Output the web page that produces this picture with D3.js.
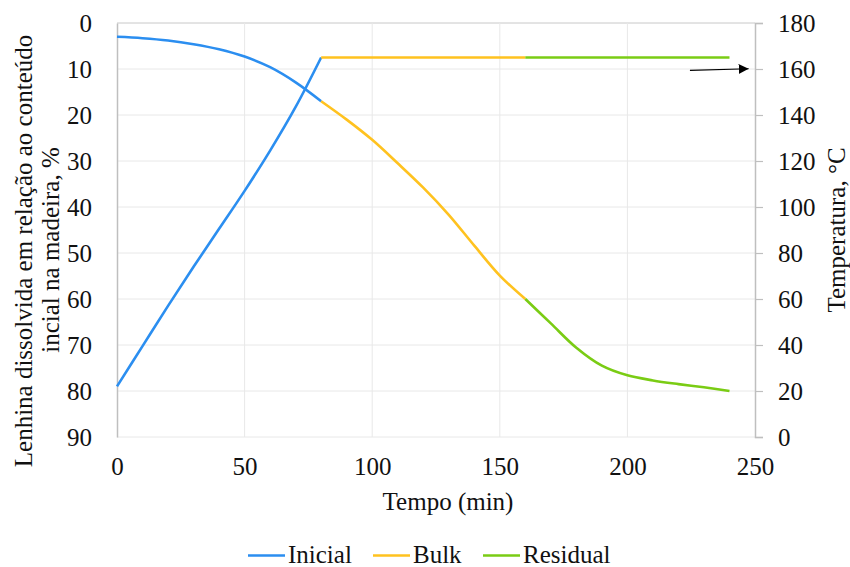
<!DOCTYPE html>
<html>
<head>
<meta charset="utf-8">
<script src="https://cdn.jsdelivr.net/npm/d3@7"></script>
<style>
  body { margin: 0; background: #fff; }
</style>
</head>
<body>
<div id="chart"></div>
<script>
// series names and colours
var seriesNames = ["Inicial", "Bulk", "Residual"];
var seriesColors = ["#2b8ef0", "#ffc21f", "#7acc14"];

// time (min) for each stage
var tInicial = [0, 10, 20, 30, 40, 50, 60, 70, 80];
var tBulk = [80, 90, 100, 110, 120, 130, 140, 150, 160];
var tResidual = [160, 170, 180, 190, 200, 210, 220, 230, 240];

// dissolved lignin, % (left axis, reversed)
var ligInicial = [3.0, 3.3, 3.8, 4.6, 5.7, 7.3, 9.6, 12.9, 17.0];
var ligBulk = [17.0, 21.0, 25.4, 30.5, 35.8, 41.7, 48.4, 54.9, 60.0];
var ligResidual = [60.0, 65.3, 70.6, 74.5, 76.6, 77.7, 78.5, 79.2, 80.0];

// temperature, C (right axis)
var tempInicial = [22, 39.5, 57, 74, 90.5, 107, 124.5, 143.5, 165];
var tempBulk = [165, 165, 165, 165, 165, 165, 165, 165, 165];
var tempResidual = [165, 165, 165, 165, 165, 165, 165, 165, 165];

var xTicks = [0, 50, 100, 150, 200, 250];
var ligTicks = [0, 10, 20, 30, 40, 50, 60, 70, 80, 90];
var tempTicks = [0, 20, 40, 60, 80, 100, 120, 140, 160, 180];

var serif = "'Liberation Serif'";
var fontSize = "25px";

var width = 850, height = 567;
var margin = { top: 23, right: 95, bottom: 130, left: 117 };

var svg = d3.select("#chart").append("svg")
    .attr("width", width)
    .attr("height", height);

var x = d3.scaleLinear().domain([0, 250]).range([margin.left, width - margin.right]);
var yLig = d3.scaleLinear().domain([0, 90]).range([margin.top, height - margin.bottom]);
var yTemp = d3.scaleLinear().domain([0, 180]).range([height - margin.bottom, margin.top]);

function serifText(sel) {
  sel.style("font-family", serif)
     .style("font-size", fontSize)
     .attr("fill", "#111");
}

// gridlines
svg.append("g")
    .selectAll("line")
    .data(ligTicks)
    .enter().append("line")
    .attr("x1", x(0)).attr("x2", x(250))
    .attr("y1", function(d) { return yLig(d); })
    .attr("y2", function(d) { return yLig(d); })
    .attr("stroke", function(d) { return d === 0 ? "#c8c8c8" : "#e8e8e8"; })
    .attr("stroke-width", 1);

svg.append("g")
    .selectAll("line")
    .data(xTicks.slice(1, -1))
    .enter().append("line")
    .attr("x1", function(d) { return x(d); })
    .attr("x2", function(d) { return x(d); })
    .attr("y1", yLig(0)).attr("y2", yLig(90))
    .attr("stroke", "#e8e8e8")
    .attr("stroke-width", 1);

// left axis
var leftAxis = svg.append("g")
    .attr("transform", "translate(" + x(0) + ",0)")
    .call(d3.axisLeft(yLig).tickValues(ligTicks).tickSize(0).tickPadding(25));
leftAxis.select(".domain").attr("stroke", "#bfbfbf").attr("stroke-width", 1.5);
leftAxis.selectAll("text").call(serifText);

// right axis
var rightAxis = svg.append("g")
    .attr("transform", "translate(" + x(250) + ",0)")
    .call(d3.axisRight(yTemp).tickValues(tempTicks).tickSize(8).tickPadding(15));
rightAxis.select(".domain").attr("stroke", "#bfbfbf").attr("stroke-width", 1.5);
rightAxis.selectAll("line").attr("stroke", "#bfbfbf").attr("stroke-width", 1.2);
rightAxis.selectAll("text").call(serifText);

// bottom axis labels only
var bottomAxis = svg.append("g")
    .attr("transform", "translate(0," + yLig(90) + ")")
    .call(d3.axisBottom(x).tickValues(xTicks).tickSize(0).tickPadding(20));
bottomAxis.select(".domain").remove();
bottomAxis.selectAll("text").call(serifText);

// axis titles
svg.append("text")
    .attr("x", 448)
    .attr("y", 510)
    .attr("text-anchor", "middle")
    .text("Tempo (min)")
    .call(serifText);

svg.append("text")
    .attr("transform", "translate(32,251) rotate(-90)")
    .attr("text-anchor", "middle")
    .text("Lenhina dissolvida em relação ao conteúdo")
    .call(serifText);

svg.append("text")
    .attr("transform", "translate(59,250) rotate(-90)")
    .attr("text-anchor", "middle")
    .text("incial na madeira, %")
    .call(serifText);

svg.append("text")
    .attr("transform", "translate(845," + yLig(45) + ") rotate(-90)")
    .attr("text-anchor", "middle")
    .text("Temperatura, °C")
    .call(serifText);

// lines
var ligLine = d3.line()
    .x(function(d) { return x(d[0]); })
    .y(function(d) { return yLig(d[1]); })
    .curve(d3.curveCatmullRom);

var tempLine = d3.line()
    .x(function(d) { return x(d[0]); })
    .y(function(d) { return yTemp(d[1]); })
    .curve(d3.curveCatmullRom);

var stages = [
  { t: tInicial, lig: ligInicial, temp: tempInicial },
  { t: tBulk, lig: ligBulk, temp: tempBulk },
  { t: tResidual, lig: ligResidual, temp: tempResidual }
];

stages.forEach(function(s, i) {
  svg.append("path")
      .datum(d3.zip(s.t, s.lig))
      .attr("d", ligLine)
      .attr("fill", "none")
      .attr("stroke", seriesColors[i])
      .attr("stroke-width", 2.6);
  svg.append("path")
      .datum(d3.zip(s.t, s.temp))
      .attr("d", tempLine)
      .attr("fill", "none")
      .attr("stroke", seriesColors[i])
      .attr("stroke-width", 2.6);
});

// arrow pointing at the temperature axis
svg.append("defs").append("marker")
    .attr("id", "arrowhead")
    .attr("viewBox", "0 0 10 10")
    .attr("refX", 10).attr("refY", 5)
    .attr("markerWidth", 10).attr("markerHeight", 10)
    .attr("markerUnits", "userSpaceOnUse")
    .attr("orient", "auto")
    .append("path")
    .attr("d", "M0,0 L10,5 L0,10 Z")
    .attr("fill", "#000");

svg.append("line")
    .attr("x1", x(224.5)).attr("y1", yTemp(159.4))
    .attr("x2", x(247.5)).attr("y2", yTemp(160.1))
    .attr("stroke", "#000")
    .attr("stroke-width", 1.2)
    .attr("marker-end", "url(#arrowhead)");

// legend
var legendX = [248, 373, 483];
var legend = svg.append("g");
seriesNames.forEach(function(name, i) {
  legend.append("line")
      .attr("x1", legendX[i]).attr("x2", legendX[i] + 37)
      .attr("y1", 555.5).attr("y2", 555.5)
      .attr("stroke", seriesColors[i])
      .attr("stroke-width", 2.6);
  legend.append("text")
      .attr("x", legendX[i] + 40)
      .attr("y", 563)
      .text(name)
      .call(serifText);
});
</script>
</body>
</html>
